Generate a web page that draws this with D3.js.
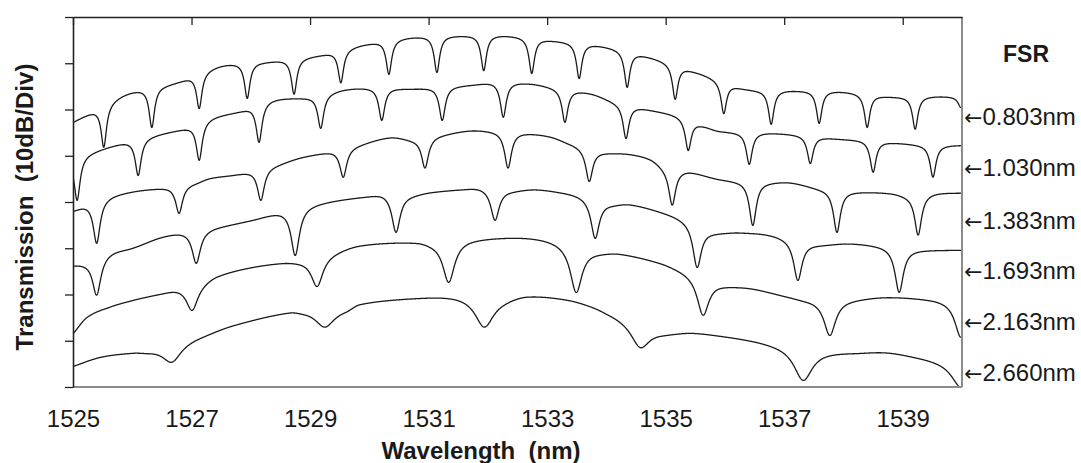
<!DOCTYPE html>
<html><head><meta charset="utf-8">
<script src="https://cdn.jsdelivr.net/npm/d3@7"></script>
<style>
body{margin:0;background:#fff}
svg text{font-family:"Liberation Sans",Arial,sans-serif;fill:#1a1a1a}
</style>
</head><body>
<svg id="chart" width="1081" height="463"></svg>
<script>
// ---------- data (wavelength in nm, transmission in dB, 10 dB/div) ----------
const xTicks = [1525, 1527, 1529, 1531, 1533, 1535, 1537, 1539];
const yTicks = [-80, -70, -60, -50, -40, -30, -20, -10, 0];
const fsrLabels = ["0.803nm", "1.030nm", "1.383nm", "1.693nm", "2.163nm", "2.660nm"];
const fsrLabelLevels = [-21.6, -32.6, -44.1, -54.9, -65.9, -76.9];
const dipWidths = [0.055, 0.06, 0.07, 0.085, 0.12, 0.19];

// envelopes (upper level between dips)
const env1 = [[1525.00,-22.7],[1525.37,-20.1],[1525.93,-16.4],[1526.72,-14.1],[1527.51,-10.4],[1528.32,-9.5],[1529.13,-8.2],[1529.93,-5.8],[1530.69,-4.3],[1531.53,-3.9],[1532.29,-3.9],[1533.13,-5.0],[1533.89,-6.1],[1534.74,-8.6],[1535.58,-12.1],[1536.34,-15.4],[1537.18,-15.8],[1537.94,-16.0],[1538.79,-17.1],[1539.63,-17.1],[1540.00,-17.3]];
const env2 = [[1525.00,-30.5],[1525.46,-28.6],[1525.88,-27.0],[1526.38,-25.5],[1526.92,-23.8],[1527.31,-21.8],[1527.82,-20.2],[1528.32,-17.9],[1529.00,-17.2],[1529.59,-15.6],[1530.10,-15.2],[1530.69,-15.4],[1531.02,-15.2],[1531.70,-14.6],[1532.12,-14.0],[1532.71,-14.3],[1533.13,-15.2],[1533.72,-16.4],[1534.15,-18.3],[1534.74,-20.0],[1535.24,-21.4],[1535.66,-23.5],[1535.92,-24.6],[1536.76,-25.0],[1537.32,-25.5],[1537.94,-26.3],[1538.40,-26.6],[1538.95,-27.2],[1539.38,-27.6],[1540.00,-27.7]];
const env3 = [[1525.00,-41.8],[1525.25,-40.3],[1525.62,-38.7],[1526.05,-37.6],[1526.55,-36.8],[1527.06,-35.8],[1527.31,-34.8],[1527.73,-34.0],[1528.41,-32.0],[1528.83,-30.4],[1529.34,-29.0],[1529.76,-27.8],[1530.35,-26.0],[1530.77,-26.4],[1531.19,-25.5],[1531.70,-24.5],[1532.12,-24.6],[1532.63,-25.0],[1533.05,-25.8],[1533.39,-27.3],[1533.89,-29.0],[1534.40,-29.6],[1534.74,-30.6],[1535.00,-32.4],[1535.41,-33.3],[1535.92,-35.0],[1536.68,-35.6],[1537.10,-35.7],[1537.60,-37.0],[1538.11,-37.6],[1538.79,-38.0],[1539.12,-38.5],[1539.54,-38.0],[1540.00,-38.0]];
const env4 = [[1525.00,-53.5],[1525.24,-52.8],[1525.62,-50.8],[1526.01,-49.8],[1526.47,-47.6],[1526.81,-46.5],[1527.31,-45.6],[1527.99,-43.9],[1528.49,-42.0],[1528.91,-40.8],[1529.34,-39.8],[1529.93,-38.7],[1530.26,-38.0],[1530.69,-38.3],[1531.02,-37.8],[1531.53,-37.2],[1531.87,-36.8],[1532.37,-37.4],[1532.80,-37.2],[1533.22,-37.8],[1533.55,-38.5],[1534.06,-40.2],[1534.40,-40.4],[1534.90,-42.0],[1535.33,-43.8],[1535.75,-46.2],[1536.25,-46.5],[1536.76,-47.0],[1537.52,-49.0],[1538.11,-48.9],[1538.62,-49.4],[1539.21,-50.2],[1540.00,-50.4]];
const env5 = [[1525.00,-68.5],[1525.24,-64.9],[1525.62,-62.7],[1526.01,-61.2],[1526.47,-59.7],[1526.75,-58.6],[1527.14,-57.3],[1527.43,-55.8],[1527.99,-54.1],[1528.54,-53.0],[1528.91,-52.5],[1529.34,-51.0],[1529.84,-49.3],[1530.80,-48.5],[1531.11,-48.7],[1531.70,-48.0],[1532.54,-47.6],[1533.05,-48.2],[1533.81,-50.5],[1534.23,-51.0],[1534.90,-53.0],[1535.24,-54.5],[1535.92,-57.5],[1536.47,-58.6],[1537.05,-60.3],[1537.39,-61.0],[1538.06,-61.0],[1538.73,-60.5],[1539.51,-61.0],[1539.85,-61.5],[1540.00,-61.8]];
const env6 = [[1525.00,-75.5],[1525.46,-73.5],[1526.01,-72.4],[1526.30,-72.0],[1527.14,-69.0],[1527.70,-66.6],[1528.66,-63.6],[1528.90,-63.5],[1529.60,-63.0],[1529.84,-61.8],[1530.97,-60.5],[1531.48,-60.3],[1532.20,-60.8],[1532.66,-60.1],[1533.34,-61.0],[1533.77,-62.5],[1534.06,-64.0],[1534.90,-67.8],[1535.46,-68.1],[1535.92,-68.8],[1536.47,-69.8],[1536.93,-70.8],[1537.60,-72.0],[1538.16,-72.4],[1538.73,-72.4],[1539.29,-73.5],[1539.75,-74.5],[1540.00,-75.0]];

// resonance dips: [centre wavelength, bottom level]
const dips1 = [[1525.52,-28.1],[1526.33,-23.8],[1527.13,-19.7],[1527.94,-17.5],[1528.73,-16.6],[1529.52,-14.1],[1530.33,-12.3],[1531.14,-11.9],[1531.93,-11.5],[1532.74,-12.1],[1533.54,-13.2],[1534.35,-15.1],[1535.16,-17.7],[1535.98,-20.8],[1536.78,-23.1],[1537.59,-22.9],[1538.40,-23.8],[1539.21,-24.2],[1539.98,-19.5]];
const dips2 = [[1525.07,-39.6],[1526.10,-34.2],[1527.13,-30.9],[1528.14,-27.0],[1529.18,-24.0],[1530.21,-22.3],[1531.23,-22.3],[1532.26,-21.6],[1533.30,-22.7],[1534.33,-26.2],[1535.38,-28.8],[1536.41,-31.8],[1537.44,-31.6],[1538.50,-33.5],[1539.51,-34.6]];
const dips3 = [[1525.40,-48.9],[1526.79,-42.4],[1528.17,-39.6],[1529.56,-34.6],[1530.94,-32.6],[1532.34,-32.6],[1533.71,-35.5],[1535.11,-40.6],[1536.47,-45.0],[1537.89,-46.5],[1539.26,-47.1]];
const dips4 = [[1525.40,-60.1],[1527.08,-53.2],[1528.75,-51.5],[1530.45,-46.5],[1532.12,-43.9],[1533.81,-47.8],[1535.53,-54.1],[1537.23,-56.9],[1538.94,-59.5]];
const dips5 = [[1527.01,-63.4],[1529.12,-58.2],[1531.34,-57.3],[1533.49,-59.5],[1535.63,-64.4],[1537.77,-68.8],[1539.98,-69.2]];
const dips6 = [[1526.67,-74.6],[1529.25,-67.0],[1531.94,-67.0],[1534.57,-71.4],[1537.32,-78.5],[1539.98,-80.0]];

const envelopes = [env1, env2, env3, env4, env5, env6];
const dipSets = [dips1, dips2, dips3, dips4, dips5, dips6];

// ---------- drawing ----------
const svg = d3.select("#chart");
const L = 73, R = 962, T = 17, B = 387;
const x = d3.scaleLinear().domain([1525, 1540]).range([L, R]);
const y = d3.scaleLinear().domain([-80, 0]).range([B, T]);

function envAt(pts, l) {
  let i = 0;
  while (i < pts.length - 2 && l > pts[i + 1][0]) i++;
  const [x0, y0] = pts[i], [x1, y1] = pts[i + 1];
  const p = pts[Math.max(0, i - 1)], n = pts[Math.min(pts.length - 1, i + 2)];
  const m0 = (y1 - p[1]) / (x1 - p[0]);
  const m1 = (n[1] - y0) / (n[0] - x0);
  const h = x1 - x0, t = Math.max(0, Math.min(1, (l - x0) / h));
  const t2 = t * t, t3 = t2 * t;
  return (2*t3 - 3*t2 + 1) * y0 + (t3 - 2*t2 + t) * h * m0 + (-2*t3 + 3*t2) * y1 + (t3 - t2) * h * m1;
}

// Lorentzian resonance line shape (in dB) on top of the envelope
function trace(env, dips, g) {
  const ds = dips.map(([c, b]) => ({c, D: Math.max(0, envAt(env, c) - b)}));
  const out = [];
  for (let l = 1525; l <= 1540.0001; l += 0.004) {
    let v = envAt(env, l);
    for (const d of ds) {
      const u = (l - d.c) / g;
      v -= d.D / (1 + u * u);
    }
    out.push([l, v]);
  }
  return out;
}

svg.append("clipPath").attr("id", "clip").append("rect")
  .attr("x", L).attr("y", T - 2).attr("width", R - L).attr("height", B - T + 2);

const line = d3.line().x(d => x(d[0])).y(d => y(d[1]));
const gTr = svg.append("g").attr("clip-path", "url(#clip)");
envelopes.forEach((env, k) => {
  gTr.append("path").datum(trace(env, dipSets[k], dipWidths[k]))
    .attr("d", line).attr("fill", "none")
    .attr("stroke", "#1a1a1a").attr("stroke-width", 1.3)
    .attr("stroke-linejoin", "round");
});

// frame: bottom & right (grey)
svg.append("line").attr("x1", L).attr("x2", R).attr("y1", B).attr("y2", B)
  .attr("stroke", "#8c8c8c").attr("stroke-width", 2);
svg.append("line").attr("x1", R).attr("x2", R).attr("y1", T).attr("y2", B)
  .attr("stroke", "#8c8c8c").attr("stroke-width", 2);

// top axis with inward ticks
const topAxis = svg.append("g").attr("transform", `translate(0,${T})`)
  .call(d3.axisTop(x).tickValues(xTicks).tickSize(-8).tickSizeOuter(0).tickFormat(""));
topAxis.select(".domain").attr("stroke", "#222").attr("stroke-width", 1.6);
topAxis.selectAll(".tick line").attr("stroke", "#222").attr("stroke-width", 1.3);

// left axis
const leftAxis = svg.append("g").attr("transform", `translate(${L},0)`)
  .call(d3.axisLeft(y).tickValues(yTicks).tickSize(8).tickSizeOuter(0).tickFormat(""));
leftAxis.select(".domain").attr("stroke", "#222").attr("stroke-width", 1.6);
leftAxis.selectAll(".tick line").attr("stroke", "#222").attr("stroke-width", 1.3);

// bottom labels
const botAxis = svg.append("g").attr("transform", `translate(0,${B})`)
  .call(d3.axisBottom(x).tickValues(xTicks).tickSize(0).tickPadding(23).tickFormat(d3.format("d")));
botAxis.select(".domain").remove();
botAxis.selectAll("text").style("font-size", "24px").attr("fill", "#222");

// titles
svg.append("text").attr("x", 481).attr("y", 459).attr("text-anchor", "middle")
  .style("white-space", "pre").attr("xml:space", "preserve")
  .style("font-size", "24px").style("font-weight", "bold").text("Wavelength  (nm)");
svg.append("text").attr("transform", "translate(33,207) rotate(-90)").attr("text-anchor", "middle")
  .style("white-space", "pre").attr("xml:space", "preserve")
  .style("font-size", "24px").style("font-weight", "bold").text("Transmission  (10dB/Div)");

// FSR labels
svg.append("text").attr("x", 1003).attr("y", 62)
  .style("font-size", "23px").style("font-weight", "bold").text("FSR");
fsrLabels.forEach((t, i) => {
  const tx = svg.append("text").attr("x", 964).attr("y", y(fsrLabelLevels[i]) + 8.5)
    .style("font-size", "24px").attr("fill", "#222");
  tx.append("tspan").style("font-family", "'DejaVu Sans'").style("font-size", "22px").text("\u2190");
  tx.append("tspan").text(t);
});
</script>
</body></html>
